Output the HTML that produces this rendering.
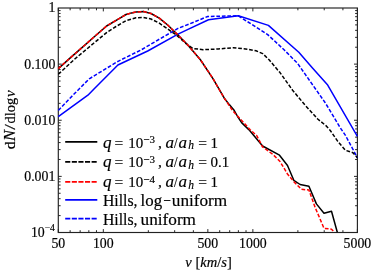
<!DOCTYPE html>
<html><head><meta charset="utf-8"><title>plot</title>
<style>
html,body{margin:0;padding:0;background:#fff;}
body{width:374px;height:276px;overflow:hidden;}
svg{display:block;will-change:transform;}
text{font-family:"Liberation Serif",serif;fill:#000;stroke:#000;stroke-width:0.18px;}
</style></head><body>
<svg width="374" height="276" viewBox="0 0 374 276">
<rect x="0" y="0" width="374" height="276" fill="#fff"/>
<defs><clipPath id="c"><rect x="57.8" y="7.5" width="300.1" height="225.5"/></clipPath></defs>

<path d="M58.30 232.50v-3.40M58.30 8.00v3.40M70.14 232.50v-2.30M70.14 8.00v2.30M80.15 232.50v-2.30M80.15 8.00v2.30M88.83 232.50v-2.30M88.83 8.00v2.30M96.48 232.50v-2.30M96.48 8.00v2.30M103.32 232.50v-3.40M103.32 8.00v3.40M148.34 232.50v-2.30M148.34 8.00v2.30M174.67 232.50v-2.30M174.67 8.00v2.30M193.36 232.50v-2.30M193.36 8.00v2.30M207.85 232.50v-3.40M207.85 8.00v3.40M219.69 232.50v-2.30M219.69 8.00v2.30M229.70 232.50v-2.30M229.70 8.00v2.30M238.38 232.50v-2.30M238.38 8.00v2.30M246.03 232.50v-2.30M246.03 8.00v2.30M252.87 232.50v-3.40M252.87 8.00v3.40M297.89 232.50v-2.30M297.89 8.00v2.30M324.22 232.50v-2.30M324.22 8.00v2.30M342.91 232.50v-2.30M342.91 8.00v2.30M357.40 232.50v-3.40M357.40 8.00v3.40M58.30 64.12h3.40M357.40 64.12h-3.40M58.30 47.23h2.30M357.40 47.23h-2.30M58.30 37.35h2.30M357.40 37.35h-2.30M58.30 30.33h2.30M357.40 30.33h-2.30M58.30 24.90h2.30M357.40 24.90h-2.30M58.30 20.45h2.30M357.40 20.45h-2.30M58.30 16.69h2.30M357.40 16.69h-2.30M58.30 13.44h2.30M357.40 13.44h-2.30M58.30 10.57h2.30M357.40 10.57h-2.30M58.30 120.25h3.40M357.40 120.25h-3.40M58.30 103.35h2.30M357.40 103.35h-2.30M58.30 93.47h2.30M357.40 93.47h-2.30M58.30 86.46h2.30M357.40 86.46h-2.30M58.30 81.02h2.30M357.40 81.02h-2.30M58.30 76.58h2.30M357.40 76.58h-2.30M58.30 72.82h2.30M357.40 72.82h-2.30M58.30 69.56h2.30M357.40 69.56h-2.30M58.30 66.69h2.30M357.40 66.69h-2.30M58.30 176.38h3.40M357.40 176.38h-3.40M58.30 159.48h2.30M357.40 159.48h-2.30M58.30 149.60h2.30M357.40 149.60h-2.30M58.30 142.58h2.30M357.40 142.58h-2.30M58.30 137.15h2.30M357.40 137.15h-2.30M58.30 132.70h2.30M357.40 132.70h-2.30M58.30 128.94h2.30M357.40 128.94h-2.30M58.30 125.69h2.30M357.40 125.69h-2.30M58.30 122.82h2.30M357.40 122.82h-2.30M58.30 232.50h3.40M357.40 232.50h-3.40M58.30 215.60h2.30M357.40 215.60h-2.30M58.30 205.72h2.30M357.40 205.72h-2.30M58.30 198.71h2.30M357.40 198.71h-2.30M58.30 193.27h2.30M357.40 193.27h-2.30M58.30 188.83h2.30M357.40 188.83h-2.30M58.30 185.07h2.30M357.40 185.07h-2.30M58.30 181.81h2.30M357.40 181.81h-2.30M58.30 178.94h2.30M357.40 178.94h-2.30" stroke="#1a1a1a" stroke-width="0.95" fill="none"/>
<rect x="58.3" y="8" width="299.1" height="224.5" fill="none" stroke="#222" stroke-width="1.15"/>
<g clip-path="url(#c)" fill="none" stroke-width="1.5" stroke-linejoin="round">
<polyline points="58.3,116.6 87.9,95.2 94.0,88.9 117.9,65.0 147.7,51.0 178.0,34.2 188.0,29.3 208.5,19.8 238.3,15.8 268.4,25.4 298.8,52.3 312.7,68.3 327.7,85.1 357.4,136.4" stroke="#00f"/>
<polyline points="58.3,110.4 74.3,93.8 89.3,78.8 118.0,61.3 141.0,50.0 159.3,39.2 178.0,28.4 188.0,24.5 207.7,16.5 238.3,15.8 267.7,34.6 284.3,50.0 297.5,63.3 310.2,81.4 325.2,102.7 340.3,127.8 345.3,135.1 357.4,157.7" stroke="#00f" stroke-dasharray="3.7 1.8"/>
<polyline points="58.3,74.2 75.4,58.5 94.0,43.0 106.6,32.6 116.0,26.5 126.0,20.7 136.0,17.8 143.5,17.4 151.0,19.0 159.3,23.2 167.7,29.0 176.0,34.8 188.0,45.2 193.0,48.5 203.1,49.7 218.2,49.0 233.2,47.7 248.3,49.3 256.0,50.8 262.7,53.6 269.3,60.0 277.7,70.0 280.0,72.6 292.6,90.2 305.1,105.2 317.7,119.0 326.5,126.2 330.3,130.5 337.8,141.4 345.3,150.2 352.9,152.7 357.4,157.7" stroke="#000" stroke-dasharray="3.7 1.8"/>
<polyline points="58.3,68.6 70.0,58.1 82.0,47.6 94.0,37.0 106.6,26.0 119.1,18.6 126.0,14.5 131.7,12.9 136.0,12.0 143.5,11.6 151.0,13.5 159.3,18.2 167.7,25.0 178.0,35.0 188.0,45.2 200.6,60.0 213.1,78.8 224.3,98.2 229.3,104.6 234.3,110.6 237.6,116.5 241.6,122.6 248.8,129.6 262.6,146.0 279.5,155.2 287.5,165.5 293.8,180.3 300.1,184.5 308.9,186.3 316.4,203.9 324.0,213.2 331.5,211.2 337.3,232.3" stroke="#000" />
<polyline points="58.3,68.6 70.0,58.1 82.0,47.6 94.0,37.0 106.6,26.0 119.1,18.6 126.0,14.5 131.7,12.9 136.0,12.0 143.5,11.6 151.0,13.5 159.3,18.2 167.7,25.0 178.0,35.0 188.0,45.2 200.6,60.0 213.1,78.8 224.3,98.2 232.7,110.7 241.0,119.8 250.2,129.8 256.7,135.5 262.5,146.8 273.3,154.8 280.0,161.5 287.5,174.0 293.8,181.6 301.4,189.3 308.9,190.0 315.2,207.6 324.0,228.3 331.5,229.2 334.6,232.3" stroke="#f00" stroke-dasharray="3.7 1.8"/>
</g>
<g class="t">
<g font-size="13.8" text-anchor="end">
<text x="55.3" y="12.4">1</text>
<text x="55.3" y="68.5">0.100</text>
<text x="55.3" y="124.7">0.010</text>
<text x="55.3" y="180.8">0.001</text>
</g>
<text x="54.9" y="236.9" font-size="13.8" text-anchor="end">10<tspan dy="-5.6" font-size="9.6">−4</tspan></text>
<g font-size="13.8" text-anchor="middle">
<text x="58.3" y="247.6">50</text>
<text x="103.3" y="247.6">100</text>
<text x="207.8" y="247.6">500</text>
<text x="252.9" y="247.6">1000</text>
<text x="357.4" y="247.6">5000</text>
</g>
<text x="185.3" y="266.8" font-size="15" textLength="46.5" lengthAdjust="spacingAndGlyphs"><tspan font-style="italic">v</tspan> [<tspan font-style="italic">km</tspan>/<tspan font-style="italic">s</tspan>]</text>
<g transform="translate(14.8,149.3) rotate(-90)" font-size="15.5"><text x="0" y="0">d</text><text x="8.4" y="0" font-style="italic" font-size="16" textLength="11" lengthAdjust="spacingAndGlyphs">N</text><text x="19.6" y="0" textLength="5.6" lengthAdjust="spacingAndGlyphs">/</text><text x="25.9" y="0" textLength="25.6" lengthAdjust="spacingAndGlyphs">dlog</text><text x="52.2" y="0" font-style="italic" font-size="15">v</text></g>
<line x1="65.2" x2="97.3" y1="141.8" y2="141.8" stroke-width="1.7" stroke="#000"/>
<line x1="65.2" x2="97.3" y1="161.9" y2="161.9" stroke-width="1.7" stroke="#000" stroke-dasharray="5.1 1.5"/>
<line x1="65.2" x2="97.3" y1="181.8" y2="181.8" stroke-width="1.7" stroke="#f00" stroke-dasharray="5.1 1.5"/>
<line x1="65.2" x2="97.3" y1="199.9" y2="199.9" stroke-width="1.7" stroke="#00f"/>
<line x1="65.2" x2="97.3" y1="218.7" y2="218.7" stroke-width="1.7" stroke="#00f" stroke-dasharray="5.1 1.5"/>
<text x="102.9" y="147.6" font-size="17" font-style="italic">q</text><text x="114.5" y="147.6" font-size="15.5">=</text><text x="128.3" y="147.6" font-size="15">10</text><text x="143.3" y="143.2" font-size="11">−3</text><text x="158" y="147.6" font-size="15.5">,</text><text x="165.6" y="147.6" font-size="17" font-style="italic">a</text><text x="174" y="147.6" font-size="15.5" textLength="3.6" lengthAdjust="spacingAndGlyphs">/</text><text x="178.6" y="147.6" font-size="17" font-style="italic">a</text><text x="188.3" y="149.1" font-size="11.5" font-style="italic">h</text><text x="198.2" y="147.6" font-size="15.5">=</text><text x="210.4" y="147.6" font-size="15">1</text>
<text x="102.9" y="167.4" font-size="17" font-style="italic">q</text><text x="114.5" y="167.4" font-size="15.5">=</text><text x="128.3" y="167.4" font-size="15">10</text><text x="143.3" y="163" font-size="11">−3</text><text x="158" y="167.4" font-size="15.5">,</text><text x="165.6" y="167.4" font-size="17" font-style="italic">a</text><text x="174" y="167.4" font-size="15.5" textLength="3.6" lengthAdjust="spacingAndGlyphs">/</text><text x="178.6" y="167.4" font-size="17" font-style="italic">a</text><text x="188.3" y="168.9" font-size="11.5" font-style="italic">h</text><text x="198.2" y="167.4" font-size="15.5">=</text><text x="210.4" y="167.4" font-size="15">0.1</text>
<text x="102.9" y="187.2" font-size="17" font-style="italic">q</text><text x="114.5" y="187.2" font-size="15.5">=</text><text x="128.3" y="187.2" font-size="15">10</text><text x="143.3" y="182.8" font-size="11">−4</text><text x="158" y="187.2" font-size="15.5">,</text><text x="165.6" y="187.2" font-size="17" font-style="italic">a</text><text x="174" y="187.2" font-size="15.5" textLength="3.6" lengthAdjust="spacingAndGlyphs">/</text><text x="178.6" y="187.2" font-size="17" font-style="italic">a</text><text x="188.3" y="188.7" font-size="11.5" font-style="italic">h</text><text x="198.2" y="187.2" font-size="15.5">=</text><text x="210.4" y="187.2" font-size="15">1</text>
<text x="102.9" y="206" font-size="16.5" textLength="34.6" lengthAdjust="spacingAndGlyphs">Hills,</text>
<text x="140.6" y="206" font-size="16.5" textLength="21.5" lengthAdjust="spacingAndGlyphs">log</text>
<text x="163.2" y="206" font-size="16.5" textLength="7.6" lengthAdjust="spacingAndGlyphs">−</text>
<text x="171.8" y="206" font-size="16.5" textLength="55.4" lengthAdjust="spacingAndGlyphs">uniform</text>
<text x="102.9" y="224.5" font-size="16.5" textLength="34.6" lengthAdjust="spacingAndGlyphs">Hills,</text>
<text x="140.6" y="224.5" font-size="16.5" textLength="55.4" lengthAdjust="spacingAndGlyphs">uniform</text>
</g>
</svg></body></html>
